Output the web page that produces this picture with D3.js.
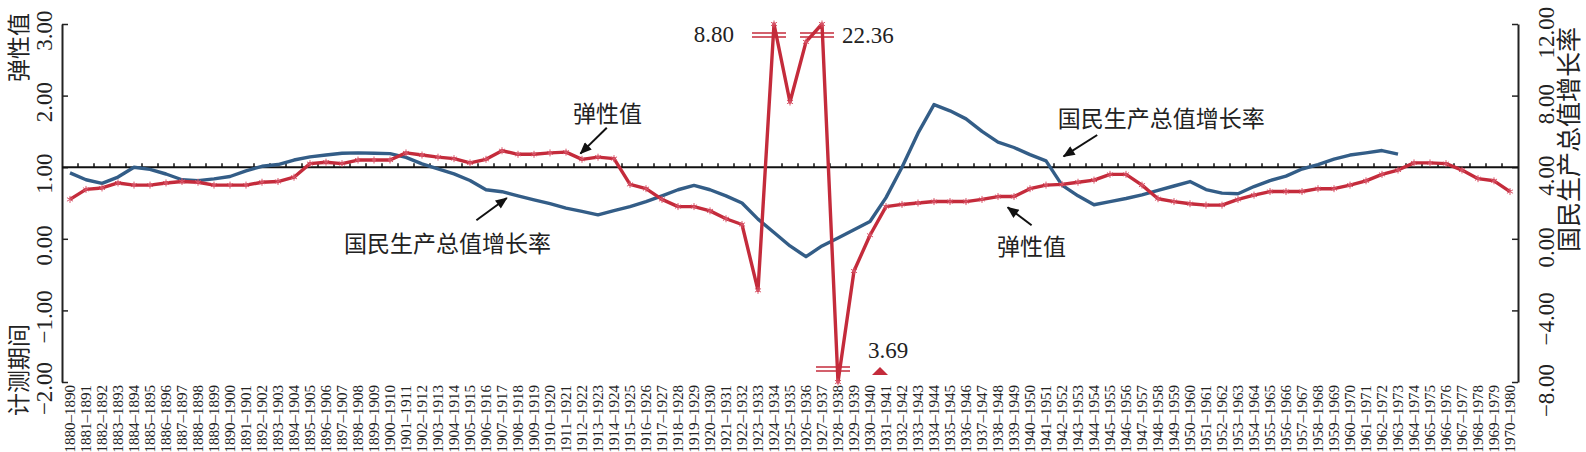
<!DOCTYPE html>
<html>
<head>
<meta charset="utf-8">
<script src="https://cdn.jsdelivr.net/npm/d3@7"></script>
<style>
  body { margin: 0; background: #fff; }
  svg { display: block; }
</style>
</head>
<body>
<svg id="chart"></svg>
<script>
// measuring periods, 1880-1890 ... 1970-1980
const startYears = d3.range(1880, 1971);
const categories = startYears.map(y => `${y}–${y + 10}`);

// elasticity (left axis); the three out-of-range values are drawn clipped with break marks
const elasticity = [
  0.55, 0.69, 0.71, 0.78, 0.75, 0.75, 0.78, 0.80, 0.79, 0.75,
  0.75, 0.75, 0.79, 0.80, 0.86, 1.05, 1.07, 1.05, 1.10, 1.10,
  1.10, 1.20, 1.17, 1.14, 1.12, 1.06, 1.11, 1.23, 1.18, 1.18,
  1.20, 1.21, 1.11, 1.14, 1.12, 0.76, 0.70, 0.55, 0.45, 0.45,
  0.39, 0.28, 0.20, -0.72, 8.80, 1.91, 2.75, 22.36, -3.69, -0.45,
  0.05, 0.45, 0.48, 0.50, 0.52, 0.52, 0.52, 0.55, 0.59, 0.59,
  0.70, 0.75, 0.76, 0.79, 0.82, 0.90, 0.90, 0.75, 0.56, 0.52,
  0.49, 0.47, 0.47, 0.55, 0.61, 0.66, 0.66, 0.66, 0.70, 0.70,
  0.75, 0.81, 0.90, 0.96, 1.06, 1.06, 1.05, 0.96, 0.84, 0.81,
  0.66
];

// GNP growth rate, % (right axis), ends with 1963-1973
const gnpGrowth = [
  3.68, 3.30, 3.10, 3.45, 4.00, 3.88, 3.62, 3.30, 3.25, 3.35,
  3.48, 3.80, 4.05, 4.15, 4.40, 4.58, 4.68, 4.78, 4.80, 4.78,
  4.76, 4.55, 4.19, 3.90, 3.63, 3.26, 2.74, 2.63, 2.40, 2.18,
  1.96, 1.71, 1.53, 1.34, 1.58, 1.80, 2.08, 2.40, 2.74, 2.98,
  2.74, 2.40, 2.00, 1.10, 0.35, -0.40, -1.00, -0.40, 0.05, 0.50,
  0.97, 2.30, 4.00, 5.90, 7.50, 7.15, 6.70, 6.00, 5.40, 5.10,
  4.70, 4.35, 3.00, 2.40, 1.90, 2.08, 2.25, 2.45, 2.70, 2.95,
  3.20, 2.75, 2.55, 2.52, 2.92, 3.25, 3.50, 3.90, 4.15, 4.45,
  4.68, 4.80, 4.93, 4.73,
  null, null, null, null, null, null, null
];

const leftTicks = [-2, -1, 0, 1, 2, 3];
const rightTicks = [-8, -4, 0, 4, 8, 12];
const breakCats = ["1924–1934", "1927–1937", "1928–1938"];

const W = 1586, H = 452;
const serif = "'Liberation Serif', 'Times New Roman', serif";
const cjk = "'Noto Sans CJK SC', sans-serif";
const red = "#c42b3b", blue = "#335d87";

const svg = d3.select("#chart").attr("width", W).attr("height", H);
svg.append("rect").attr("width", W).attr("height", H).attr("fill", "#fff");

const x = d3.scaleBand().domain(categories).range([62, 1518]);
const xc = c => x(c) + x.bandwidth() / 2;
const xi = d3.scaleLinear().domain([0, categories.length - 1]).range([xc(categories[0]), xc(categories[categories.length - 1])]);
const yL = d3.scaleLinear().domain([-2, 3]).range([382, 24]).clamp(true);
const yR = d3.scaleLinear().domain([-8, 12]).range([382, 24]);

const defs = svg.append("defs");
defs.append("marker")
  .attr("id", "arrow")
  .attr("viewBox", "0 0 12 10")
  .attr("refX", 11).attr("refY", 5)
  .attr("markerWidth", 13).attr("markerHeight", 10)
  .attr("markerUnits", "userSpaceOnUse")
  .attr("orient", "auto")
  .append("path").attr("d", "M0,0 L12,5 L0,10 Z").attr("fill", "#111");

// left axis
const gL = svg.append("g")
  .attr("transform", `translate(${x.range()[0]},0)`)
  .call(d3.axisLeft(yL).tickValues(leftTicks).tickSize(-6).tickSizeOuter(0).tickFormat(d3.format(".2f")));
gL.select(".domain").attr("stroke", "#222").attr("stroke-width", 2);
gL.selectAll(".tick line").attr("stroke", "#222").attr("stroke-width", 1.5);
gL.selectAll(".tick text")
  .attr("x", null).attr("dy", null)
  .attr("transform", "translate(-10,6) rotate(-90)")
  .attr("text-anchor", "middle")
  .style("font-family", serif).style("font-size", "23px").attr("fill", "#222");

// right axis
const gR = svg.append("g")
  .attr("transform", `translate(${x.range()[1]},0)`)
  .call(d3.axisRight(yR).tickValues(rightTicks).tickSize(-6).tickSizeOuter(0).tickFormat(d3.format(".2f")));
gR.select(".domain").attr("stroke", "#222").attr("stroke-width", 2);
gR.selectAll(".tick line").attr("stroke", "#222").attr("stroke-width", 1.5);
gR.selectAll(".tick text")
  .attr("x", null).attr("dy", null)
  .attr("transform", "translate(36,8) rotate(-90)")
  .attr("text-anchor", "middle")
  .style("font-family", serif).style("font-size", "23px").attr("fill", "#222");

// axis titles
svg.append("text").text("弹性值")
  .attr("transform", "translate(27,82) rotate(-90)")
  .style("font-family", cjk).style("font-size", "23px").attr("fill", "#222");
svg.append("text").text("计测期间")
  .attr("transform", "translate(27,416) rotate(-90)")
  .style("font-family", cjk).style("font-size", "23px").attr("fill", "#222");
svg.append("text").text("国民生产总值增长率")
  .attr("transform", "translate(1578,252) rotate(-90)")
  .style("font-family", cjk).style("font-size", "25px").attr("fill", "#222");

// category labels along the bottom
svg.append("g").selectAll("text")
  .data(categories)
  .join("text")
  .attr("transform", d => `translate(${xc(d)},385) rotate(-90)`)
  .attr("dy", "0.35em")
  .attr("text-anchor", "end")
  .style("font-family", serif).style("font-size", "15px").attr("fill", "#222")
  .text(d => d);

// reference line at elasticity 1.00, with ticks between periods
const y1 = yL(1);
svg.append("line")
  .attr("x1", x.range()[0]).attr("x2", x.range()[1])
  .attr("y1", y1).attr("y2", y1)
  .attr("stroke", "#111").attr("stroke-width", 2);
svg.append("g").selectAll("line")
  .data(categories.slice(1))
  .join("line")
  .attr("x1", d => x(d)).attr("x2", d => x(d))
  .attr("y1", y1).attr("y2", y1 - 4)
  .attr("stroke", "#111").attr("stroke-width", 1.5);

// GNP growth line
const blueLine = d3.line()
  .defined(d => d != null)
  .x((d, i) => xc(categories[i]))
  .y(d => yR(d));
svg.append("path")
  .datum(gnpGrowth)
  .attr("d", blueLine)
  .attr("fill", "none").attr("stroke", blue)
  .attr("stroke-width", 3.4).attr("stroke-linejoin", "round");

// elasticity line
const redLine = d3.line()
  .x((d, i) => xc(categories[i]))
  .y(d => yL(d));
svg.append("path")
  .datum(elasticity)
  .attr("d", redLine)
  .attr("fill", "none").attr("stroke", red)
  .attr("stroke-width", 3.4).attr("stroke-linejoin", "round");

svg.append("g").selectAll("path")
  .data(elasticity)
  .join("path")
  .attr("transform", (d, i) => `translate(${xc(categories[i])},${yL(d)})`)
  .attr("d", d3.symbol(d3.symbolAsterisk, 34))
  .attr("fill", "none").attr("stroke", "#d9566a").attr("stroke-width", 1);

// break marks for the clipped values
breakCats.forEach(c => {
  const v = elasticity[categories.indexOf(c)];
  const cx = xc(c);
  const top = v > 3;
  const ys = top ? [yL(3) + 9, yL(3) + 13] : [yL(-2) - 15, yL(-2) - 11];
  ys.forEach(yy => {
    svg.append("line")
      .attr("x1", cx - 22).attr("x2", cx + 12)
      .attr("y1", yy).attr("y2", yy)
      .attr("stroke", red).attr("stroke-width", 1.5);
  });
  const label = d3.format(".2f")(Math.abs(v));
  const t = svg.append("text").text(label)
    .style("font-family", serif).style("font-size", "23px").attr("fill", "#222")
    .attr("dominant-baseline", "central");
  if (c === breakCats[0]) {
    t.attr("x", cx - 40).attr("y", yL(3) + 10).attr("text-anchor", "end");
  } else if (top) {
    t.attr("x", cx + 20).attr("y", yL(3) + 11).attr("text-anchor", "start");
  } else {
    t.attr("x", cx + 30).attr("y", yL(-2) - 32).attr("text-anchor", "start");
    const tx = cx + 42, ty = yL(-2) - 7;
    svg.append("path")
      .attr("d", `M${tx - 8},${ty} L${tx + 8},${ty} L${tx},${ty - 8} Z`)
      .attr("fill", red);
  }
});

// callouts: text position and arrow in (period index, elasticity) coordinates
const callouts = [
  { text: "弹性值", at: [33.6, 1.77], from: [33.55, 1.55], to: [31.9, 1.19] },
  { text: "国民生产总值增长率", at: [23.6, -0.05], from: [25.4, 0.26], to: [27.3, 0.57] },
  { text: "国民生产总值增长率", at: [68.2, 1.70], from: [64.2, 1.45], to: [62.1, 1.15] },
  { text: "弹性值", at: [60.1, -0.09], from: [60.1, 0.19], to: [58.6, 0.44] }
];
callouts.forEach(a => {
  svg.append("text").text(a.text)
    .attr("x", xi(a.at[0])).attr("y", yL(a.at[1]))
    .attr("text-anchor", "middle").attr("dominant-baseline", "central")
    .style("font-family", cjk).style("font-size", "23px").attr("fill", "#222");
  svg.append("line")
    .attr("x1", xi(a.from[0])).attr("y1", yL(a.from[1]))
    .attr("x2", xi(a.to[0])).attr("y2", yL(a.to[1]))
    .attr("stroke", "#111").attr("stroke-width", 2)
    .attr("marker-end", "url(#arrow)");
});
</script>
</body>
</html>
